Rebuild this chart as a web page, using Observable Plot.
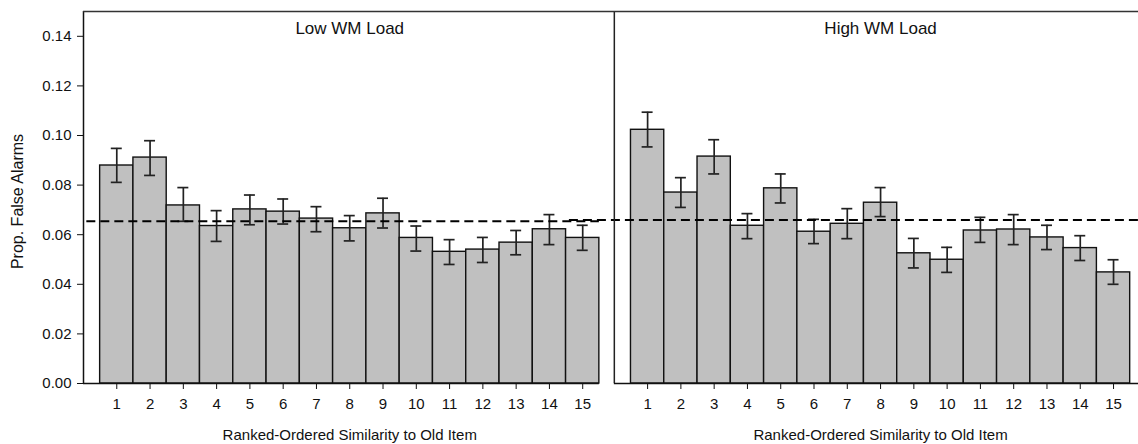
<!DOCTYPE html>
<html><head><meta charset="utf-8">
<script src="https://cdn.jsdelivr.net/npm/d3@7"></script>
<script src="https://cdn.jsdelivr.net/npm/@observablehq/plot@0.6"></script>
<style>html,body{margin:0;padding:0;background:#fff;} svg{display:block;}</style>
</head><body><div id="chart"></div>
<script>
const ranks = [1,2,3,4,5,6,7,8,9,10,11,12,13,14,15];
const panelTitles = ["Low WM Load", "High WM Load"];
const xTitle = "Ranked-Ordered Similarity to Old Item";
const yTitle = "Prop. False Alarms";
const yTicks = [0, 0.02, 0.04, 0.06, 0.08, 0.10, 0.12, 0.14];

const lowMeans  = [0.0879,0.0911,0.0718,0.0635,0.0702,0.0693,0.0665,0.0626,0.0686,0.0587,0.0531,0.0540,0.0568,0.0622,0.0587];
const lowUpper  = [0.0948,0.0979,0.0790,0.0697,0.0760,0.0744,0.0713,0.0677,0.0747,0.0635,0.0580,0.0589,0.0617,0.0681,0.0638];
const lowLower  = [0.0811,0.0839,0.0654,0.0573,0.0640,0.0643,0.0612,0.0575,0.0627,0.0534,0.0480,0.0488,0.0519,0.0560,0.0537];
const highMeans = [0.1023,0.0770,0.0915,0.0636,0.0787,0.0612,0.0644,0.0729,0.0525,0.0499,0.0617,0.0621,0.0589,0.0546,0.0448];
const highUpper = [0.1094,0.0830,0.0983,0.0685,0.0845,0.0662,0.0705,0.0790,0.0585,0.0549,0.0670,0.0681,0.0638,0.0596,0.0499];
const highLower = [0.0954,0.0710,0.0845,0.0584,0.0728,0.0564,0.0584,0.0673,0.0466,0.0448,0.0569,0.0560,0.0540,0.0496,0.0400];
const chanceLow = 0.0654;
const chanceHigh = 0.0659;

// layout of the two panels along one shared linear x scale
const offsets = [0, 15.95];
const panelEnds = [15.5, 31.7];

const rows = [];
[[lowMeans, lowUpper, lowLower], [highMeans, highUpper, highLower]].forEach(([m, u, l], p) => {
  ranks.forEach((r, i) => rows.push({panel: p, rank: r, pos: offsets[p] + r, mean: m[i], hi: u[i], lo: l[i]}));
});
const labelByPos = new Map(rows.map(d => [d.pos, String(d.rank)]));
const panels = panelTitles.map((t, p) => ({title: t, start: offsets[p], end: panelEnds[p], center: offsets[p] + 8}));

const cap = 0.165;
const font = "'Liberation Sans', Arial, sans-serif";

const chart = Plot.plot({
  width: 1138,
  height: 444,
  marginLeft: 83,
  marginRight: 0,
  marginTop: 11,
  marginBottom: 61,
  style: {fontFamily: font, fontSize: "15px", color: "#111", background: "#fff"},
  x: {domain: [0, 31.7]},
  y: {domain: [0, 0.15]},
  marks: [
    Plot.rect(rows, {x1: d => d.pos - 0.5, x2: d => d.pos + 0.5, y1: 0, y2: "mean", fill: "#c0c0c0", stroke: "#111", strokeWidth: 1.4}),
    Plot.ruleX(rows, {x: "pos", y1: "lo", y2: "hi", stroke: "#222", strokeWidth: 1.7}),
    Plot.ruleY(rows, {x1: d => d.pos - cap, x2: d => d.pos + cap, y: "hi", stroke: "#222", strokeWidth: 1.7}),
    Plot.ruleY(rows, {x1: d => d.pos - cap, x2: d => d.pos + cap, y: "lo", stroke: "#222", strokeWidth: 1.7}),
    Plot.ruleY([chanceLow], {x1: 0.1, x2: 15.5, stroke: "#000", strokeWidth: 2, strokeDasharray: "9,5"}),
    Plot.ruleY([chanceHigh], {x1: 14.6, x2: 31.7, stroke: "#000", strokeWidth: 2, strokeDasharray: "9,5"}),
    Plot.ruleY(panels, {x1: "start", x2: "end", y: 0, stroke: "#111", strokeWidth: 1.5}),
    Plot.ruleX([0], {y1: 0, y2: 0.15, stroke: "#111", strokeWidth: 1.5}),
    Plot.ruleX([offsets[1]], {y1: 0, y2: 0.15, stroke: "#222", strokeWidth: 1.5}),
    Plot.ruleY([0.15], {x1: 0, x2: 31.7, stroke: "#333", strokeWidth: 1.6}),
    Plot.axisY({ticks: yTicks, tickFormat: d3.format(".2f"), tickSize: 6, tickPadding: 6, label: null, fontSize: 15}),
    Plot.axisX({ticks: rows.map(d => d.pos), tickFormat: d => labelByPos.get(d), tickSize: 6, tickPadding: 9, label: null, fontSize: 15}),
    Plot.text(panels, {x: "center", text: "title", frameAnchor: "top", lineAnchor: "middle", dy: 17, fontSize: 17, fill: "#111"}),
    Plot.text(panels, {x: "center", text: () => xTitle, frameAnchor: "bottom", lineAnchor: "middle", dy: 52, fontSize: 15, fill: "#111"}),
    Plot.text([yTitle], {frameAnchor: "left", textAnchor: "middle", lineAnchor: "middle", rotate: -90, dx: -66, dy: 4, fontSize: 16, fill: "#111"})
  ]
});
document.getElementById("chart").appendChild(chart);
</script>
</body></html>
